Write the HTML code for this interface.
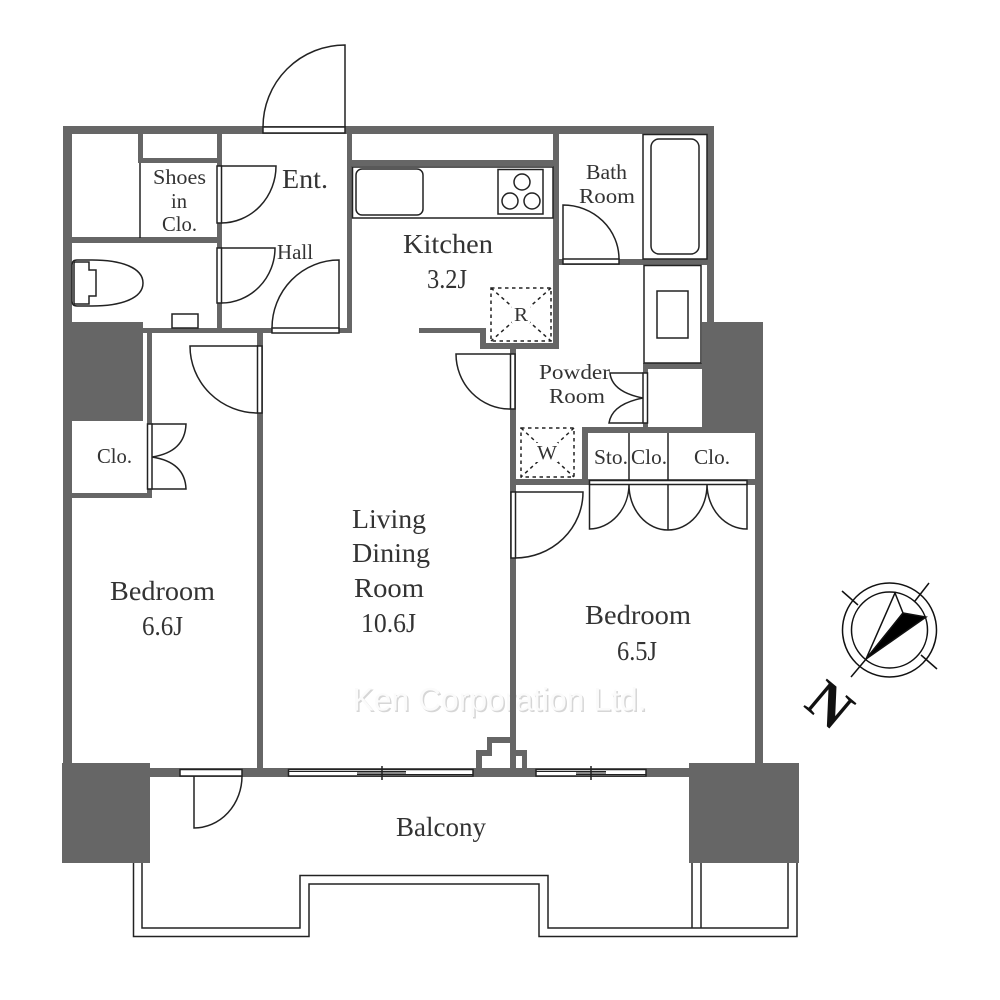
<!DOCTYPE html>
<html><head><meta charset="utf-8"><style>
html,body{margin:0;padding:0;background:#fff}
svg{display:block}
text{font-family:"Liberation Serif",serif;fill:#333}
.w{fill:#666;stroke:none}
.l{fill:none;stroke:#222;stroke-width:1.5}
.f{fill:#fff;stroke:#222;stroke-width:1.5}
.d{fill:none;stroke:#222;stroke-width:1.5;stroke-dasharray:3.5 3.5}
</style></head><body>
<svg width="1000" height="1000" viewBox="0 0 1000 1000" xmlns="http://www.w3.org/2000/svg">
<rect width="1000" height="1000" fill="#fff"/>
<!-- watermark -->
<text x="354" y="712" textLength="294" lengthAdjust="spacingAndGlyphs" font-size="32" style="font-family:'Liberation Sans',sans-serif;fill:#d6d6d6">Ken Corporation Ltd.</text>
<text x="352.500" y="710.500" textLength="294" lengthAdjust="spacingAndGlyphs" font-size="32" style="font-family:'Liberation Sans',sans-serif;fill:#fbfbfb">Ken Corporation Ltd.</text>
<!-- walls -->
<g class="w">
<rect x="63" y="126" width="651" height="8"/>
<rect x="63" y="126" width="9" height="640"/>
<rect x="63" y="322" width="80" height="99"/>
<rect x="138" y="134" width="5" height="29"/>
<rect x="138" y="158" width="84" height="5"/>
<rect x="217" y="134" width="5" height="199"/>
<rect x="72" y="237" width="150" height="6"/>
<rect x="347" y="134" width="5" height="199"/>
<rect x="143" y="328" width="209" height="5"/>
<rect x="352" y="160" width="207" height="6"/>
<rect x="553" y="134" width="6" height="215"/>
<rect x="480" y="343" width="79" height="6"/>
<rect x="480" y="329" width="6" height="20"/>
<rect x="419" y="328" width="67" height="5"/>
<rect x="707" y="126" width="7" height="197"/>
<rect x="702" y="322" width="61" height="111"/>
<rect x="755" y="322" width="8" height="444"/>
<rect x="559" y="259" width="148" height="6"/>
<rect x="643" y="363" width="59" height="6"/>
<rect x="643" y="363" width="5" height="70"/>
<rect x="582" y="427" width="120" height="6"/>
<rect x="582" y="427" width="6" height="58"/>
<rect x="510" y="349" width="6" height="421"/>
<rect x="510" y="479" width="245" height="6"/>
<rect x="147" y="333" width="5" height="165"/>
<rect x="72" y="493" width="80" height="5"/>
<rect x="257" y="333" width="6" height="437"/>
<rect x="150" y="768" width="540" height="9"/>
<rect x="62" y="763" width="88" height="100"/>
<rect x="689" y="763" width="110" height="100"/>
<path d="M476 768V750H487V737H516V750H527V768H522V756H510V743H492V756H482V768Z"/>
</g>
<!-- entrance door -->
<path class="l" d="M345 127V45A82 82 0 0 0 263 127"/>
<rect class="f" x="263" y="127" width="82" height="6"/>
<!-- shoes closet -->
<line class="l" x1="140" y1="163" x2="140" y2="238"/>
<rect class="f" x="217" y="166" width="4.5" height="57"/>
<path class="l" d="M221 166H276A55 57 0 0 1 221 223"/>
<rect class="f" x="217" y="248" width="4.5" height="55"/>
<path class="l" d="M221 248H275A54 55 0 0 1 221 303"/>
<!-- hall door -->
<path class="l" d="M339 328V260A67 68 0 0 0 272 328"/>
<rect class="f" x="272" y="328" width="67" height="5"/>
<!-- toilet -->
<path class="f" d="M92 260H77Q72 260 72 265V301Q72 306 77 306H92C122 306 143 298 143 283C143 268 122 260 92 260Z"/>
<path class="l" d="M75 262H89V270H96V296H89V304H75Q74 304 74 302V264Q74 262 75 262Z"/>
<rect class="f" x="172" y="314" width="26" height="14"/>
<!-- kitchen -->
<rect class="f" x="352.500" y="167" width="200.500" height="51"/>
<rect class="l" x="356" y="169" width="67" height="46" rx="6"/>
<rect class="l" x="498" y="169.500" width="45" height="44.500"/>
<circle class="l" cx="522" cy="182" r="8"/>
<circle class="l" cx="510" cy="201" r="8"/>
<circle class="l" cx="532" cy="201" r="8"/>
<rect class="d" x="491" y="288" width="60" height="53"/>
<path class="d" d="M491 288L551 341M551 288L491 341"/>
<rect x="512" y="303" width="18" height="20" fill="#fff"/>
<!-- bath -->
<rect class="l" x="643" y="134.500" width="64" height="124.500"/>
<rect class="l" x="651" y="139" width="48" height="115" rx="8"/>
<path class="l" d="M563 259V205A56 54 0 0 1 619 259"/>
<rect class="f" x="563" y="259" width="56" height="5"/>
<!-- washer -->
<rect class="f" x="644" y="265.500" width="57" height="97.500"/>
<rect class="l" x="657" y="291" width="31" height="47"/>
<!-- powder -->
<rect class="f" x="510.500" y="354" width="4.500" height="55"/>
<path class="l" d="M510 354H456A54 55 0 0 0 510 409"/>
<rect class="f" x="643" y="373" width="4.500" height="50"/>
<path class="l" d="M643 373H610Q612 392 643 398Q612 404 609 423H643"/>
<rect class="d" x="521" y="428" width="53" height="49"/>
<path class="d" d="M521 428L574 477M574 428L521 477"/>
<rect x="536" y="443" width="22" height="19" fill="#fff"/>
<!-- closets right -->
<line class="l" x1="629" y1="433" x2="629" y2="480"/>
<line class="l" x1="668" y1="433" x2="668" y2="530"/>
<rect class="f" x="589.500" y="480.500" width="157.500" height="4"/>
<path class="l" d="M589.500 484.500V529A40 45 0 0 0 629 484.500A39 45 0 0 0 668 530A39 45 0 0 0 707 484.500A40 45 0 0 0 747 529V484.500"/>
<!-- bedroom right door -->
<rect class="f" x="511" y="492" width="4.500" height="66"/>
<path class="l" d="M515 492H583A68 66 0 0 1 515 558"/>
<!-- bedroom left doors -->
<rect class="f" x="257.500" y="346" width="4.500" height="67"/>
<path class="l" d="M258 346H190A68 67 0 0 0 258 413"/>
<rect class="f" x="147.500" y="424" width="4.500" height="65"/>
<path class="l" d="M152 424H186Q185 452 152 457Q185 462 186 489H152"/>
<!-- balcony door -->
<rect class="f" x="180" y="769.500" width="62" height="6.500"/>
<path class="l" d="M194 776V828A48 52 0 0 0 242 776"/>
<!-- windows -->
<rect class="f" x="288.500" y="769.500" width="184.500" height="6.500"/>
<rect x="357" y="771.500" width="49" height="3" fill="#888"/>
<path class="l" style="stroke-width:1" d="M288 771.500H406M357 774.500H473"/>
<path class="l" d="M382 766V780"/>
<rect class="f" x="536" y="769.500" width="110" height="6.500"/>
<rect x="576" y="771.500" width="30" height="3" fill="#888"/>
<path class="l" style="stroke-width:1" d="M536 771.500H606M576 774.500H646"/>
<path class="l" d="M591 766V780"/>
<!-- balcony railing -->
<path class="l" d="M133.500 863V936.500H309V884H539V936.500H797V863"/>
<path class="l" d="M142 863V928H300V875.500H548V928H788V863"/>
<path class="l" d="M692 863V928M701 863V928"/>
<!-- labels -->
<g font-size="21">
<text x="153" y="184" textLength="53" lengthAdjust="spacingAndGlyphs">Shoes</text>
<text x="171" y="208" textLength="16" lengthAdjust="spacingAndGlyphs">in</text>
<text x="162" y="231" textLength="35" lengthAdjust="spacingAndGlyphs">Clo.</text>
<text x="277" y="259" textLength="36" lengthAdjust="spacingAndGlyphs">Hall</text>
<text x="586" y="179" textLength="41" lengthAdjust="spacingAndGlyphs">Bath</text>
<text x="579" y="203" textLength="56" lengthAdjust="spacingAndGlyphs">Room</text>
<text x="539" y="379" textLength="71" lengthAdjust="spacingAndGlyphs">Powder</text>
<text x="549" y="403" textLength="56" lengthAdjust="spacingAndGlyphs">Room</text>
<text x="594" y="464" textLength="34" lengthAdjust="spacingAndGlyphs">Sto.</text>
<text x="631" y="464" textLength="36" lengthAdjust="spacingAndGlyphs">Clo.</text>
<text x="694" y="464" textLength="36" lengthAdjust="spacingAndGlyphs">Clo.</text>
<text x="97" y="463" textLength="35" lengthAdjust="spacingAndGlyphs">Clo.</text>
<text x="514" y="321" textLength="14" lengthAdjust="spacingAndGlyphs" font-size="20">R</text>
<text x="537" y="459" textLength="20" lengthAdjust="spacingAndGlyphs" font-size="20">W</text>
</g>
<g font-size="27">
<text x="282" y="188" textLength="46" lengthAdjust="spacingAndGlyphs">Ent.</text>
<text x="403" y="253" textLength="90" lengthAdjust="spacingAndGlyphs">Kitchen</text>
<text x="427" y="288" textLength="40" lengthAdjust="spacingAndGlyphs">3.2J</text>
<text x="110" y="600" textLength="105" lengthAdjust="spacingAndGlyphs">Bedroom</text>
<text x="142" y="635" textLength="41" lengthAdjust="spacingAndGlyphs">6.6J</text>
<text x="352" y="528" textLength="74" lengthAdjust="spacingAndGlyphs">Living</text>
<text x="352" y="562" textLength="78" lengthAdjust="spacingAndGlyphs">Dining</text>
<text x="354" y="597" textLength="70" lengthAdjust="spacingAndGlyphs">Room</text>
<text x="361" y="632" textLength="55" lengthAdjust="spacingAndGlyphs">10.6J</text>
<text x="585" y="624" textLength="106" lengthAdjust="spacingAndGlyphs">Bedroom</text>
<text x="617" y="660" textLength="40" lengthAdjust="spacingAndGlyphs">6.5J</text>
<text x="396" y="836" textLength="90" lengthAdjust="spacingAndGlyphs">Balcony</text>
</g>
<!-- compass -->
<g fill="none" stroke="#111" stroke-width="1.500">
<circle cx="889.500" cy="630" r="47"/>
<circle cx="889.500" cy="630" r="38"/>
<path d="M842 591L858 605M929 583L915 601M921 655L937 669M867 658L851 677"/>
<path fill="#fff" d="M895 593L903 613L866 659Z"/>
<path fill="#000" d="M903 613L926 617L866 659Z"/>
</g>
<text x="0" y="0" font-size="56" font-weight="bold" text-anchor="middle" transform="translate(818 719) rotate(40)" style="fill:#111">N</text>
</svg>
</body></html>
